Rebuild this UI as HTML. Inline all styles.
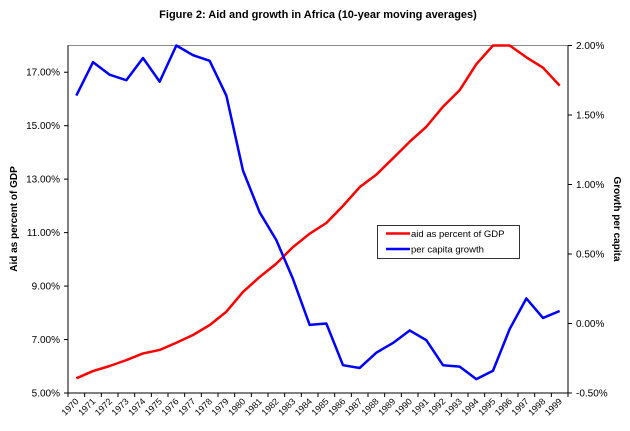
<!DOCTYPE html>
<html><head><meta charset="utf-8"><style>
body{margin:0;background:#fff;}
svg{display:block;font-family:"Liberation Sans",Arial,sans-serif;}
</style></head><body>
<svg id="chart" width="630" height="431" viewBox="0 0 630 431">
<text x="318" y="18" text-anchor="middle" font-size="11" font-weight="bold">Figure 2: Aid and growth in Africa (10-year moving averages)</text>
<rect x="68" y="45.5" width="500" height="347.5" fill="none" stroke="#888" stroke-width="1"/>
<g id="axes"></g>
<g id="series"></g>
<text transform="translate(17,219) rotate(-90)" text-anchor="middle" font-size="10" font-weight="bold">Aid as percent of GDP</text>
<text transform="translate(614,219) rotate(90)" text-anchor="middle" font-size="10" font-weight="bold">Growth per capita</text>
<g>
<rect x="377.5" y="225.5" width="142" height="33" fill="#fff" stroke="#000" stroke-width="0.8"/>
<line x1="386" y1="233.5" x2="410" y2="233.5" stroke="#f00" stroke-width="2.5"/>
<text x="411" y="237" font-size="9.5">aid as percent of GDP</text>
<line x1="386" y1="249" x2="410" y2="249" stroke="#00f" stroke-width="2.5"/>
<text x="411" y="252.5" font-size="9.5">per capita growth</text>
</g>
</svg>
<script>
const years = [1970,1971,1972,1973,1974,1975,1976,1977,1978,1979,1980,1981,1982,1983,1984,1985,1986,1987,1988,1989,1990,1991,1992,1993,1994,1995,1996,1997,1998,1999];
const aidPct = [5.55,5.82,6.01,6.23,6.48,6.61,6.88,7.17,7.54,8.04,8.78,9.34,9.84,10.46,10.96,11.36,12.0,12.7,13.17,13.78,14.4,14.96,15.71,16.33,17.3,18.0,18.0,17.56,17.17,16.5];
const growthPct = [1.64,1.88,1.79,1.75,1.91,1.74,2.0,1.93,1.89,1.64,1.10,0.80,0.60,0.32,-0.01,0.0,-0.30,-0.32,-0.21,-0.14,-0.05,-0.12,-0.30,-0.31,-0.40,-0.34,-0.04,0.18,0.04,0.09];
const leftTicks = [5,7,9,11,13,15,17];
const rightTicks = [-0.5,0,0.5,1.0,1.5,2.0];

const L=68,R=568,T=45.5,B=393;
const bw=(R-L)/years.length;
const xC=i=>L+bw*(i+0.5);
const yL=v=>B-(v-5)/(18-5)*(B-T);
const yR=v=>B-(v+0.5)/(2.5)*(B-T);
const NS='http://www.w3.org/2000/svg';
const axes=document.getElementById('axes'), series=document.getElementById('series');
function mk(tag,attrs,parent){const e=document.createElementNS(NS,tag);for(const k in attrs)e.setAttribute(k,attrs[k]);parent.appendChild(e);return e;}

let e=mk('line',{x1:L,y1:T,x2:L,y2:B,stroke:'#000','stroke-width':1},axes);


e=mk('line',{x1:R,y1:T,x2:R,y2:B,stroke:'#000','stroke-width':1},axes);


e=mk('line',{x1:L,y1:B,x2:R,y2:B,stroke:'#000','stroke-width':1},axes);



leftTicks.forEach(v=>{
  const y=yL(v);
  let t=mk('line',{x1:L-4,y1:y,x2:L,y2:y,stroke:'#000'},axes);
  
  
  let tx=mk('text',{x:L-8,y:y+3.5,'text-anchor':'end','font-size':'10'},axes);
  tx.textContent=v.toFixed(2)+'%';
  
  
});
rightTicks.forEach(v=>{
  const y=yR(v);
  let t=mk('line',{x1:R,y1:y,x2:R+4,y2:y,stroke:'#000'},axes);
  
  
  let tx=mk('text',{x:R+8,y:y+3.5,'font-size':'10'},axes);
  tx.textContent=(v<0?'-':'')+Math.abs(v).toFixed(2)+'%';
  
  
});
for(let i=0;i<=years.length;i++){
  const x=L+bw*i;
  let t=mk('line',{x1:x,y1:B,x2:x,y2:B+4,stroke:'#000'},axes);
  
  
}
years.forEach((yr,i)=>{
  const x=xC(i)+3, y=B+9;
  let tx=mk('text',{x:x,y:y,'text-anchor':'end','font-size':'9',transform:`rotate(-45 ${x} ${y})`},axes);
  tx.textContent=yr;
  
  
});
let p=mk('polyline',{points:aidPct.map((v,i)=>xC(i)+','+yL(v)).join(' '),fill:'none',stroke:'#f00','stroke-width':2.5,'stroke-linejoin':'round'},series);


p=mk('polyline',{points:growthPct.map((v,i)=>xC(i)+','+yR(v)).join(' '),fill:'none',stroke:'#00f','stroke-width':2.5,'stroke-linejoin':'round'},series);


</script>
</body></html>
